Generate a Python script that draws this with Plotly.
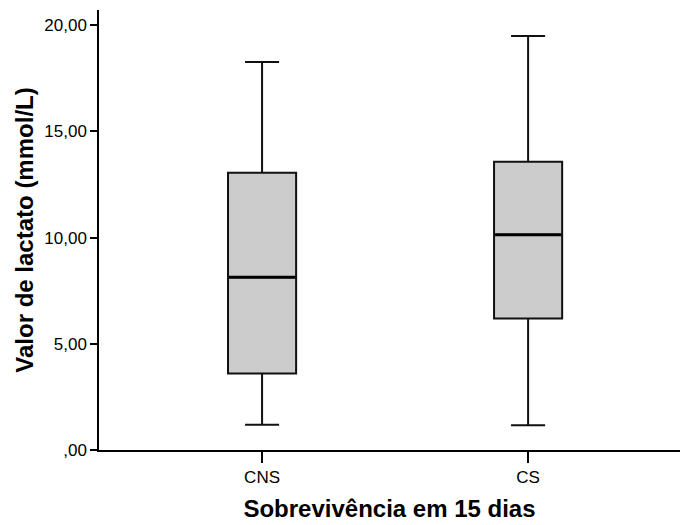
import plotly.graph_objects as go

groups = ["CNS", "CS"]
lower_whisker = [1.19, 1.17]
q1_vals = [3.60, 6.19]
median_vals = [8.14, 10.14]
q3_vals = [13.06, 13.57]
upper_whisker = [18.27, 19.50]

y_tickvals = [0, 5, 10, 15, 20]
y_ticktext = [",00", "5,00", "10,00", "15,00", "20,00"]

font_family = "Liberation Sans, Arial, sans-serif"

fig = go.Figure()
fig.add_trace(go.Box(
    x=groups,
    q1=q1_vals, median=median_vals, q3=q3_vals,
    lowerfence=lower_whisker, upperfence=upper_whisker,
    fillcolor="#cccccc",
    line=dict(color="#111111", width=2),
    whiskerwidth=0.5,
    width=0.256,
    boxpoints=False,
    hoverinfo="skip",
    showlegend=False,
))
# thicker median line drawn as collapsed box at the median
fig.add_trace(go.Box(
    x=groups,
    q1=median_vals, median=median_vals, q3=median_vals,
    lowerfence=median_vals, upperfence=median_vals,
    fillcolor="rgba(0,0,0,0)",
    line=dict(color="black", width=3),
    whiskerwidth=0,
    width=0.248,
    boxpoints=False,
    hoverinfo="skip",
    showlegend=False,
))

fig.update_layout(
    width=680, height=525,
    margin=dict(l=99, r=0, t=10, b=75),
    plot_bgcolor="white", paper_bgcolor="white",
    font=dict(family=font_family, color="black"),
    xaxis=dict(
        type="category",
        range=[-0.613, 1.571],
        showline=True, linecolor="black", linewidth=1.5,
        ticks="outside", ticklen=11, tickwidth=1.5, tickcolor="black",
        tickfont=dict(size=17),
        showgrid=False, zeroline=False,
        title=dict(text="<b>Sobrevivência em 15 dias</b>", font=dict(size=24), standoff=14),
    ),
    yaxis=dict(
        range=[0, 20.72],
        tickvals=y_tickvals, ticktext=y_ticktext,
        showline=True, linecolor="black", linewidth=1.5,
        ticks="outside", ticklen=7, tickwidth=1.5, tickcolor="black",
        tickfont=dict(size=17),
        showgrid=False, zeroline=False,
        title=dict(text="<b>Valor de lactato (mmol/L)</b>", font=dict(size=24), standoff=4),
    ),
)

fig.write_html("out.html")
